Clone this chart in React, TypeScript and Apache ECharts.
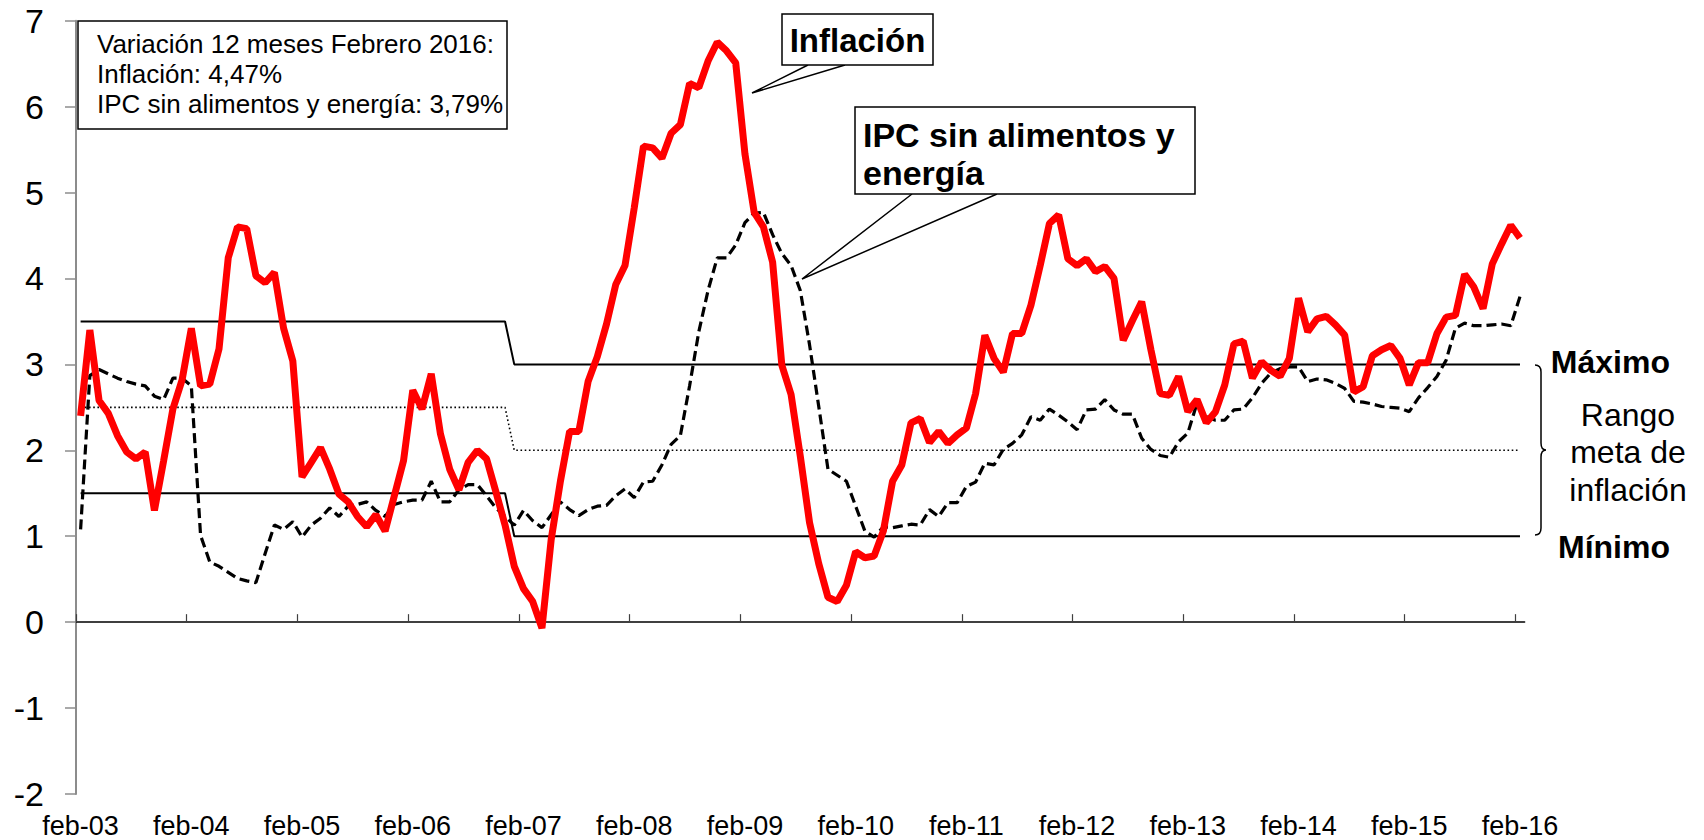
import React, { useEffect, useRef } from "react";
import * as echarts from "echarts";

// Month abbreviations used for the category labels (Spanish)
const MONTHS = ["ene", "feb", "mar", "abr", "may", "jun", "jul", "ago", "sep", "oct", "nov", "dic"];
const START = { year: 2003, month: 1 }; // feb-03
const END = { year: 2016, month: 1 }; // feb-16

const categories: string[] = [];
for (let y = START.year; y <= END.year; y++) {
  for (let m = 0; m < 12; m++) {
    if (y === START.year && m < START.month) continue;
    if (y === END.year && m > END.month) break;
    categories.push(`${MONTHS[m]}-${String(y % 100).padStart(2, "0")}`);
  }
}
// month boundaries for the tick axis (one more than the months)
const boundaries: string[] = [...categories, "mar-16"];

// Inflación, variación 12 meses (%)
const inflacion = [
  /* 2003 feb-dic */ 2.40, 3.40, 2.58, 2.43, 2.17, 1.98, 1.90, 1.98, 1.30, 1.88, 2.48,
  /* 2004 */ 2.82, 3.42, 2.75, 2.77, 3.18, 4.24, 4.60, 4.58, 4.03, 3.95, 4.07, 3.42,
  /* 2005 */ 3.04, 1.69, 1.86, 2.03, 1.78, 1.49, 1.40, 1.23, 1.11, 1.25, 1.06, 1.47,
  /* 2006 */ 1.88, 2.70, 2.48, 2.89, 2.19, 1.78, 1.54, 1.86, 2.00, 1.90, 1.52, 1.13,
  /* 2007 */ 0.65, 0.39, 0.24, -0.07, 0.96, 1.64, 2.22, 2.22, 2.80, 3.09, 3.47, 3.93,
  /* 2008 */ 4.15, 4.82, 5.54, 5.52, 5.40, 5.69, 5.79, 6.27, 6.22, 6.53, 6.75, 6.65,
  /* 2009 */ 6.51, 5.45, 4.77, 4.60, 4.19, 2.99, 2.65, 1.93, 1.16, 0.68, 0.29, 0.24,
  /* 2010 */ 0.43, 0.82, 0.75, 0.77, 1.06, 1.64, 1.83, 2.32, 2.37, 2.09, 2.22, 2.08,
  /* 2011 */ 2.18, 2.26, 2.66, 3.34, 3.07, 2.91, 3.36, 3.36, 3.69, 4.15, 4.64, 4.74,
  /* 2012 */ 4.23, 4.15, 4.23, 4.08, 4.14, 4.00, 3.28, 3.51, 3.73, 3.17, 2.66, 2.64,
  /* 2013 */ 2.86, 2.45, 2.59, 2.32, 2.45, 2.76, 3.24, 3.27, 2.84, 3.03, 2.93, 2.86,
  /* 2014 */ 3.07, 3.77, 3.38, 3.53, 3.56, 3.46, 3.34, 2.68, 2.74, 3.10, 3.17, 3.22,
  /* 2015 */ 3.07, 2.76, 3.02, 3.02, 3.36, 3.55, 3.57, 4.05, 3.90, 3.65, 4.17, 4.40,
  /* 2016 ene-feb */ 4.62, 4.47,
];

// IPC sin alimentos y energía, variación 12 meses (%)
const ipcSinAlimentos = [
  /* 2003 feb-dic */ 1.08, 2.87, 2.94, 2.89, 2.84, 2.80, 2.77, 2.75, 2.63, 2.59, 2.84,
  /* 2004 */ 2.84, 2.75, 1.01, 0.70, 0.65, 0.58, 0.51, 0.48, 0.46, 0.80, 1.13, 1.08,
  /* 2005 */ 1.17, 0.99, 1.13, 1.21, 1.33, 1.23, 1.35, 1.37, 1.40, 1.30, 1.23, 1.37,
  /* 2006 */ 1.40, 1.42, 1.42, 1.64, 1.40, 1.40, 1.54, 1.60, 1.60, 1.47, 1.33, 1.23,
  /* 2007 */ 1.13, 1.30, 1.18, 1.10, 1.25, 1.40, 1.31, 1.24, 1.31, 1.35, 1.36, 1.47,
  /* 2008 */ 1.55, 1.45, 1.63, 1.64, 1.83, 2.07, 2.17, 2.75, 3.38, 3.86, 4.24, 4.24,
  /* 2009 */ 4.39, 4.65, 4.76, 4.77, 4.51, 4.29, 4.15, 3.86, 3.23, 2.51, 1.78, 1.71,
  /* 2010 */ 1.64, 1.35, 1.06, 0.99, 1.11, 1.10, 1.12, 1.14, 1.13, 1.31, 1.23, 1.39,
  /* 2011 */ 1.39, 1.58, 1.63, 1.85, 1.83, 2.01, 2.08, 2.18, 2.39, 2.35, 2.48, 2.41,
  /* 2012 */ 2.33, 2.24, 2.47, 2.48, 2.59, 2.47, 2.42, 2.42, 2.14, 2.01, 1.94, 1.92,
  /* 2013 */ 2.10, 2.20, 2.55, 2.39, 2.35, 2.35, 2.47, 2.48, 2.61, 2.78, 2.90, 2.95,
  /* 2014 */ 2.97, 2.97, 2.80, 2.83, 2.82, 2.78, 2.72, 2.57, 2.56, 2.54, 2.51, 2.50,
  /* 2015 */ 2.49, 2.45, 2.61, 2.73, 2.86, 3.05, 3.42, 3.48, 3.45, 3.45, 3.46, 3.47,
  /* 2016 ene-feb */ 3.45, 3.79,
];

// Rango meta de inflación (breakpoints)
const rangoMaximo: [string, number][] = [["feb-03", 3.5], ["dic-06", 3.5], ["ene-07", 3.0], ["feb-16", 3.0]];
const rangoCentro: [string, number][] = [["feb-03", 2.5], ["dic-06", 2.5], ["ene-07", 2.0], ["feb-16", 2.0]];
const rangoMinimo: [string, number][] = [["feb-03", 1.5], ["dic-06", 1.5], ["ene-07", 1.0], ["feb-16", 1.0]];

const yTicks = { min: -2, max: 7, interval: 1 };

const FONT = "'Liberation Sans', Arial, Helvetica, sans-serif";

echarts.graphic.registerShape(
  "brace",
  echarts.graphic.extendPath(
    "M 0 0 Q 6 0 6 7 L 6 78 Q 6 85 11 85 Q 6 85 6 92 L 6 163 Q 6 170 0 170",
    {}
  )
);

export default function App() {
  const ref = useRef<HTMLDivElement>(null);

  useEffect(() => {
    if (!ref.current) return;
    const chart = echarts.init(ref.current, undefined, { renderer: "svg" });

    const textStyle = (extra: any) => ({
      fontFamily: FONT,
      fill: "#000",
      ...extra,
    });

    chart.setOption({
      animation: false,
      backgroundColor: "#fff",
      grid: { left: 76, right: 179.4, top: 20.7, bottom: 46, containLabel: false },
      xAxis: [
        {
          type: "category",
          data: categories,
          boundaryGap: true,
          position: "bottom",
          axisLine: { show: false, onZero: false },
          axisTick: { show: false },
          axisLabel: {
            interval: 11,
            fontSize: 27,
            fontFamily: FONT,
            color: "#000",
            margin: 18,
          },
          splitLine: { show: false },
        },
        {
          type: "category",
          data: boundaries,
          boundaryGap: false,
          position: "bottom",
          axisLine: { show: true, onZero: true, lineStyle: { color: "#000", width: 1.5 } },
          axisTick: { show: true, interval: 11, inside: true, length: 8, lineStyle: { color: "#404040", width: 1.2 } },
          axisLabel: { show: false },
          splitLine: { show: false },
        },
      ],
      yAxis: {
        type: "value",
        min: yTicks.min,
        max: yTicks.max,
        interval: yTicks.interval,
        axisLine: { show: true, lineStyle: { color: "#8c8c8c", width: 2 } },
        axisTick: { show: true, length: 11, lineStyle: { color: "#8c8c8c", width: 1.5 } },
        axisLabel: { fontSize: 34, fontFamily: FONT, color: "#000", margin: 32 },
        splitLine: { show: false },
      },
      series: [
        {
          name: "Máximo",
          type: "line",
          data: rangoMaximo,
          symbol: "none",
          lineStyle: { color: "#000", width: 2 },
          z: 2,
        },
        {
          name: "Centro",
          type: "line",
          data: rangoCentro,
          symbol: "none",
          lineStyle: { color: "#000", width: 1.6, type: [1.6, 2.6] },
          z: 2,
        },
        {
          name: "Mínimo",
          type: "line",
          data: rangoMinimo,
          symbol: "none",
          lineStyle: { color: "#000", width: 2 },
          z: 2,
        },
        {
          name: "IPC sin alimentos y energía",
          type: "line",
          data: ipcSinAlimentos,
          symbol: "none",
          lineStyle: { color: "#000", width: 3.2, type: [10, 5] },
          z: 3,
        },
        {
          name: "Inflación",
          type: "line",
          data: inflacion,
          symbol: "none",
          lineStyle: { color: "#ff0000", width: 7 },
          z: 4,
        },
      ],
      graphic: [
        // info box
        {
          type: "rect",
          shape: { x: 78, y: 21, width: 429, height: 108 },
          style: { fill: "#fff", stroke: "#000", lineWidth: 1.5 },
          z: 10,
        },
        {
          type: "text",
          x: 97,
          y: 29,
          style: textStyle({
            text: "Variación 12 meses Febrero 2016:\nInflación: 4,47%\nIPC sin alimentos y energía: 3,79%",
            fontSize: 26,
            lineHeight: 30,
            align: "left",
            textAlign: "left",
            verticalAlign: "top",
            textVerticalAlign: "top",
          }),
          z: 11,
        },
        // Inflación callout
        {
          type: "polyline",
          shape: { points: [[808, 65], [752, 93], [845, 65]] },
          style: { fill: "none", stroke: "#000", lineWidth: 1.5 },
          z: 10,
        },
        {
          type: "rect",
          shape: { x: 782, y: 14, width: 151, height: 51 },
          style: { fill: "#fff", stroke: "#000", lineWidth: 1.5 },
          z: 10,
        },
        {
          type: "text",
          x: 857.5,
          y: 40,
          style: textStyle({
            text: "Inflación",
            fontSize: 33,
            fontWeight: "bold",
            align: "center",
            textAlign: "center",
            verticalAlign: "middle",
            textVerticalAlign: "middle",
          }),
          z: 11,
        },
        // IPC callout
        {
          type: "polyline",
          shape: { points: [[912, 194], [802, 279], [997, 194]] },
          style: { fill: "none", stroke: "#000", lineWidth: 1.5 },
          z: 10,
        },
        {
          type: "rect",
          shape: { x: 855, y: 107, width: 340, height: 87 },
          style: { fill: "#fff", stroke: "#000", lineWidth: 1.5 },
          z: 10,
        },
        {
          type: "text",
          x: 863,
          y: 116,
          style: textStyle({
            text: "IPC sin alimentos y\nenergía",
            fontSize: 34,
            fontWeight: "bold",
            lineHeight: 38,
            align: "left",
            textAlign: "left",
            verticalAlign: "top",
            textVerticalAlign: "top",
          }),
          z: 11,
        },
        // right-side labels
        {
          type: "text",
          x: 1670,
          y: 362,
          style: textStyle({
            text: "Máximo",
            fontSize: 32,
            fontWeight: "bold",
            align: "right",
            textAlign: "right",
            verticalAlign: "middle",
            textVerticalAlign: "middle",
          }),
          z: 11,
        },
        {
          type: "text",
          x: 1670,
          y: 547,
          style: textStyle({
            text: "Mínimo",
            fontSize: 32,
            fontWeight: "bold",
            align: "right",
            textAlign: "right",
            verticalAlign: "middle",
            textVerticalAlign: "middle",
          }),
          z: 11,
        },
        {
          type: "text",
          x: 1628,
          y: 452,
          style: textStyle({
            text: "Rango\nmeta de\ninflación",
            fontSize: 32,
            lineHeight: 37.5,
            align: "center",
            textAlign: "center",
            verticalAlign: "middle",
            textVerticalAlign: "middle",
          }),
          z: 11,
        },
        {
          type: "brace",
          x: 1535,
          y: 365,
          style: { fill: "none", stroke: "#000", lineWidth: 1.5 },
          z: 11,
        },
      ],
    });

    return () => {
      chart.dispose();
    };
  }, []);

  return (
    <div
      ref={ref}
      style={{ position: "absolute", left: 0, top: 0, width: 1704, height: 840, background: "#fff" }}
    />
  );
}
